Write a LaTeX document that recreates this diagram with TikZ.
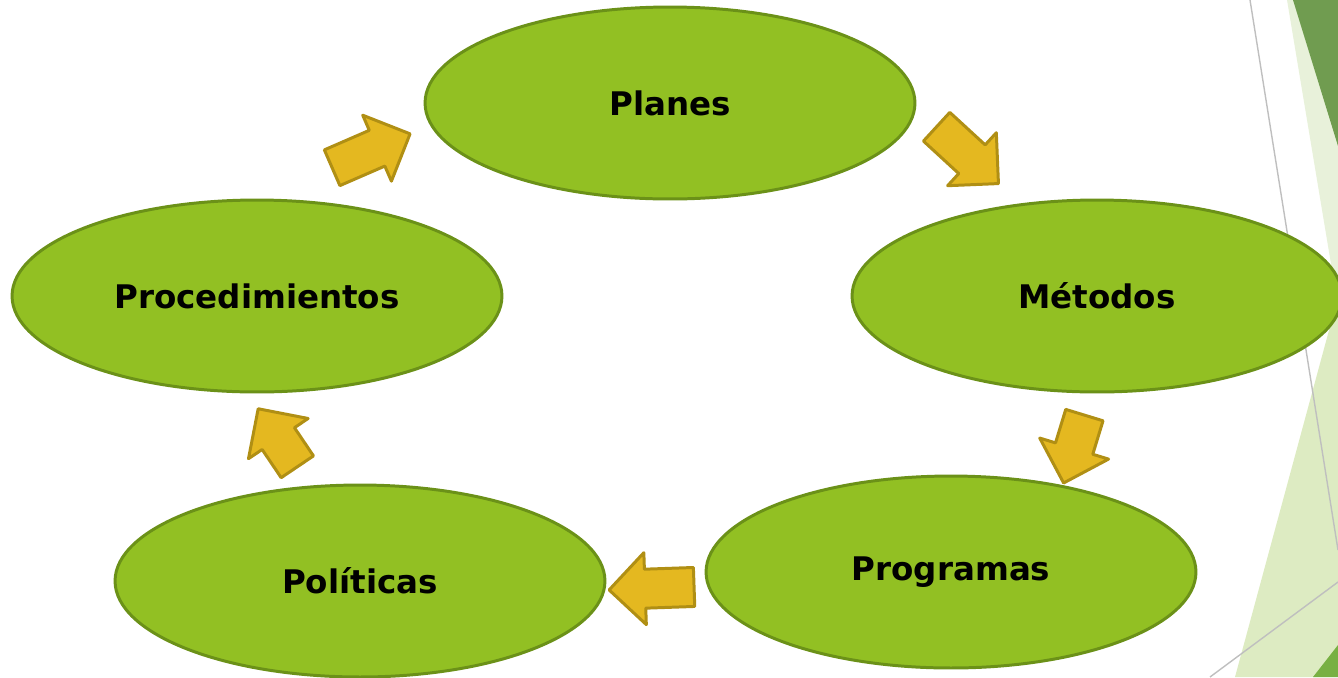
\documentclass[tikz,border=0pt]{standalone}
\usepackage{fontspec}
\setmainfont{DejaVu Sans}
\usetikzlibrary{shapes.geometric,shapes.arrows}
\definecolor{leaf}{HTML}{92C023}
\definecolor{leafrim}{HTML}{6B9118}
\definecolor{gold}{HTML}{E4B820}
\definecolor{goldrim}{HTML}{B08F14}
\definecolor{moss}{HTML}{709C50}
\definecolor{grass}{HTML}{78B043}
\definecolor{pale}{HTML}{DDEBC2}
\definecolor{paler}{HTML}{E8F1DA}
\begin{document}
\begin{tikzpicture}
  [x=0.02cm,y=-0.02cm,every node/.style={ellipse,draw=leafrim,fill=leaf,line width=1.7pt,
   minimum width=9.8cm,minimum height=3.84cm,inner sep=0pt,font=\bfseries\fontsize{18.5}{20}\selectfont}]
  \tikzstyle{flow} = [single arrow,draw=goldrim,fill=gold,inner xsep=0pt,inner ysep=0.36cm,
   minimum width=0pt,single arrow head extend=0.33cm,single arrow head indent=0pt,line join=round,anchor=tip]
  \useasboundingbox (0,0) rectangle (1338,677);
  \begin{scope}
    \clip (0,0) rectangle (1338,677);
    % facets on the right
    \fill[paler] (1287,0) -- (1338,0) -- (1338,306) -- cycle;
    \fill[pale] (1338,297) -- (1338,677) -- (1235,677) -- cycle;
    \fill[moss] (1293,0) -- (1338,0) -- (1338,146) -- cycle;
    \fill[grass] (1313,677) -- (1338,677) -- (1338,645) -- cycle;
    \draw[black!25,line width=0.8pt] (1250,0) -- (1338,550);
    \draw[black!25,line width=0.8pt] (1210,677) -- (1338,582);

    \node (n1) at (670,103)  {Planes};
    \node (n2) at (1097,296) {M\'etodos};
    \node (n3) at (951,572)  {Programas};
    \node (n4) at (360,581)  {Pol\'iticas};
    \node (n5) at (257,296)  {Procedimientos};
  \end{scope}

% arrows placed by their tips
\foreach \name/\x/\y/\ang/\len in {a1/412/133/23.5/85,a2/1000/185/-42.6/84,a3/1063/485/-107/71,a4/607/590/182/85,a5/257/407/124/70}
   \node[flow,rotate=\ang,minimum height=\len*0.02cm] (\name) at (\x,\y) {};

\end{tikzpicture}
\end{document}
